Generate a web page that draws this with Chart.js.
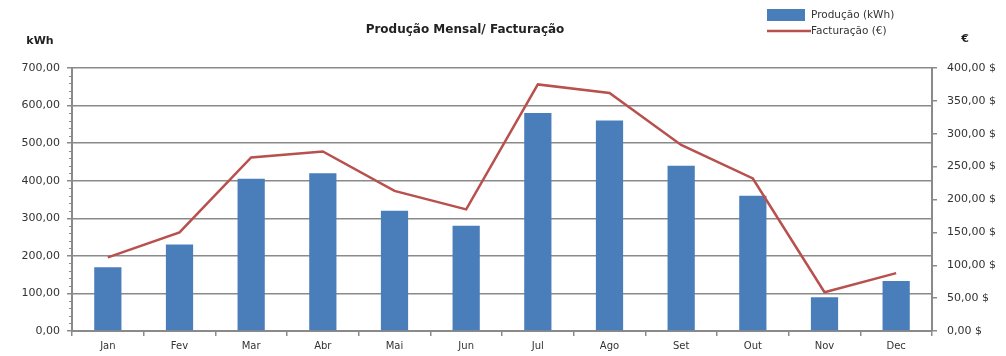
<!DOCTYPE html>
<html>
<head>
<meta charset="utf-8">
<script src="https://cdn.jsdelivr.net/npm/chart.js@4/dist/chart.umd.min.js"></script>
<style>
  html, body { margin: 0; padding: 0; background: #fff; }
  #wrap { width: 1006px; height: 356px; }
</style>
</head>
<body>
<div id="wrap"><canvas id="chart"></canvas></div>
<script>
const months = ['Jan', 'Fev', 'Mar', 'Abr', 'Mai', 'Jun', 'Jul', 'Ago', 'Set', 'Out', 'Nov', 'Dec'];
const producao = [170, 230, 405, 420, 320, 280, 580, 560, 440, 360, 90, 133];
const facturacao = [112, 150, 264, 273, 213, 185, 375, 362, 283, 232, 59, 88];
const leftTicks = [0, 100, 200, 300, 400, 500, 600, 700];
const rightTicks = [0, 50, 100, 150, 200, 250, 300, 350, 400];

const FONT = '"DejaVu Sans", "Liberation Sans", sans-serif';
const BLUE = '#4a7ebb';
const RED = '#b8504e';
const GRID = '#8a8a8a';

function fmt(v) {
  return v.toFixed(2).replace('.', ',');
}

// Title, axis units, legend and minor ticks drawn on top of the chart
const extras = {
  id: 'extras',
  afterDraw(chart) {
    const ctx = chart.ctx;
    const y = chart.scales.y;
    ctx.save();

    // minor ticks on left axis
    ctx.strokeStyle = GRID;
    ctx.lineWidth = 1;
    for (let v = 0; v <= 700; v += 20) {
      if (v % 100 === 0) continue;
      const py = Math.round(y.getPixelForValue(v)) + 0.5;
      ctx.beginPath();
      ctx.moveTo(y.right - 3, py);
      ctx.lineTo(y.right, py);
      ctx.stroke();
    }

    ctx.fillStyle = '#222';
    ctx.font = 'bold 12px ' + FONT;
    ctx.textAlign = 'center';
    ctx.textBaseline = 'middle';
    ctx.fillText('Produção Mensal/ Facturação', 465, 30);
    ctx.font = 'bold 11px ' + FONT;
    ctx.fillText('kWh', 40, 41);
    ctx.fillText('€', 965, 39);

    // legend
    ctx.fillStyle = BLUE;
    ctx.fillRect(767, 9, 38, 12);
    ctx.strokeStyle = RED;
    ctx.lineWidth = 2.5;
    ctx.beginPath();
    ctx.moveTo(767, 31);
    ctx.lineTo(811, 31);
    ctx.stroke();
    ctx.fillStyle = '#333';
    ctx.font = '10.5px ' + FONT;
    ctx.textAlign = 'left';
    ctx.fillText('Produção (kWh)', 811, 15);
    ctx.fillText('Facturação (€)', 811, 31);

    ctx.restore();
  }
};

new Chart(document.getElementById('chart'), {
  type: 'bar',
  data: {
    labels: months,
    datasets: [
      {
        type: 'line',
        label: 'Facturação (€)',
        data: facturacao,
        yAxisID: 'y1',
        borderColor: RED,
        borderWidth: 2.5,
        pointRadius: 0,
        tension: 0,
        order: 0
      },
      {
        type: 'bar',
        label: 'Produção (kWh)',
        data: producao,
        yAxisID: 'y',
        backgroundColor: BLUE,
        barPercentage: 0.38,
        categoryPercentage: 1,
        order: 1
      }
    ]
  },
  options: {
    responsive: true,
    maintainAspectRatio: false,
    animation: false,
    layout: { padding: { top: 68, left: 0, right: 0, bottom: 0 } },
    plugins: {
      legend: { display: false },
      tooltip: { enabled: false }
    },
    scales: {
      x: {
        grid: { display: true, drawOnChartArea: false, offset: true, tickLength: 5, color: GRID, lineWidth: 1.5 },
        border: { color: GRID, width: 2 },
        ticks: { color: '#333', font: { family: FONT, size: 10 }, padding: 4 },
        afterFit(s) { s.height = 25; }
      },
      y: {
        position: 'left',
        min: 0,
        max: 700,
        afterBuildTicks(s) { s.ticks = leftTicks.map(v => ({ value: v })); },
        ticks: { color: '#333', font: { family: FONT, size: 11 }, padding: 7, callback: v => fmt(v) },
        grid: { color: GRID, lineWidth: 1.5, tickLength: 5 },
        border: { color: GRID, width: 2 },
        afterFit(s) { s.width = 72; }
      },
      y1: {
        position: 'right',
        min: 0,
        max: 400,
        afterBuildTicks(s) { s.ticks = rightTicks.map(v => ({ value: v })); },
        ticks: { color: '#333', font: { family: FONT, size: 11 }, padding: 10, callback: v => fmt(v) + ' $' },
        grid: { drawOnChartArea: false, color: GRID, lineWidth: 1.5, tickLength: 5 },
        border: { color: GRID, width: 2 },
        afterFit(s) { s.width = 74; }
      }
    }
  },
  plugins: [extras]
});
</script>
</body>
</html>
